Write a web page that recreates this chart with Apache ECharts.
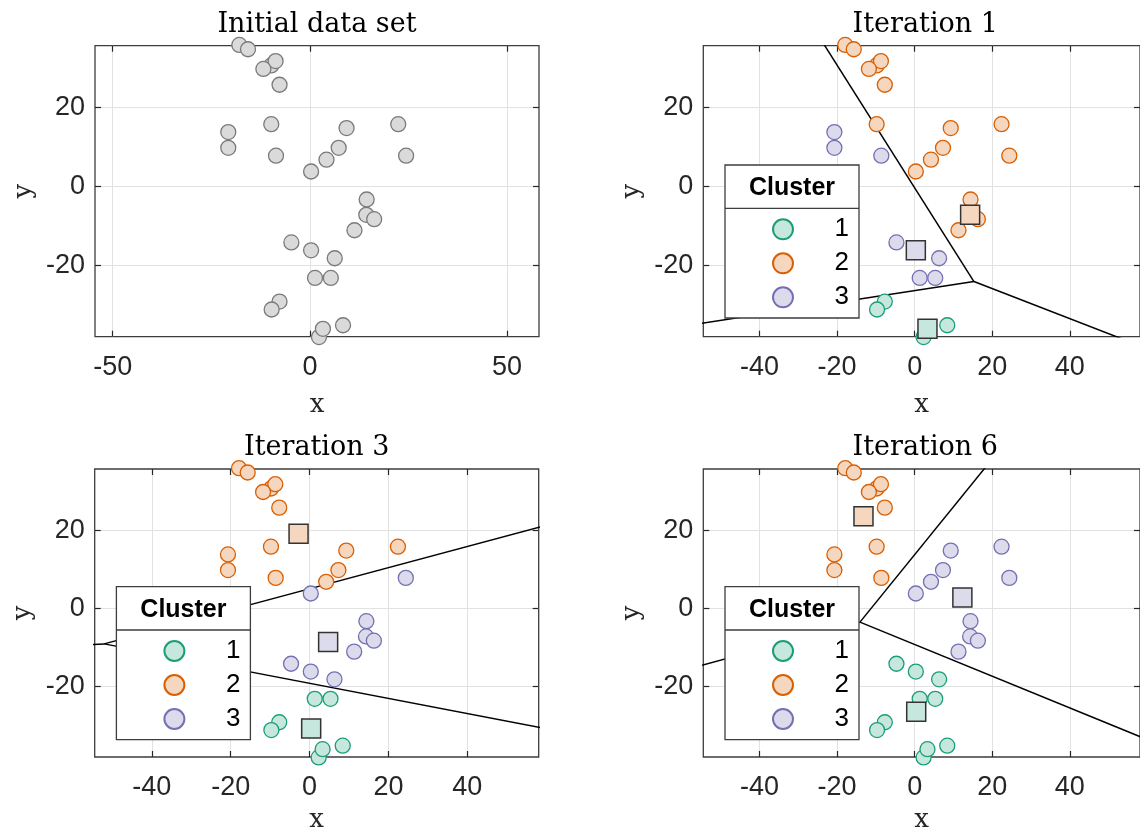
<!DOCTYPE html>
<html>
<head>
<meta charset="utf-8">
<script src="https://cdn.jsdelivr.net/npm/echarts@6/dist/echarts.min.js"></script>
<style>html,body{margin:0;padding:0;background:#fff}#chart{width:1140px;height:834px}</style>
</head>
<body>
<div id="chart"></div>
<script>
// ---- data ----
const pointX = [-17.9,-15.7,-9.8,-8.7,-11.8,-7.7,-9.8,-20.7,-20.7,-8.6,0.3,4.2,7.3,9.3,22.4,24.4,14.4,14.3,16.3,11.3,-4.7,0.3,6.3,1.3,5.3,-7.7,-9.7,2.3,3.3,8.4];
const pointY = [35.9,34.8,30.7,31.8,29.8,25.8,15.8,13.8,9.8,7.8,3.8,6.8,9.8,14.8,15.8,7.8,-3.3,-7.2,-8.3,-11.1,-14.2,-16.2,-18.2,-23.2,-23.2,-29.2,-31.2,-38.2,-36.1,-35.2];
const labelsIter1 = [2,2,2,2,2,2,2,3,3,3,2,2,2,2,2,2,2,2,2,2,3,3,3,3,3,1,1,1,1,1];
const labelsIter3 = [2,2,2,2,2,2,2,2,2,2,3,2,2,2,2,3,3,3,3,3,3,3,3,1,1,1,1,1,1,1];
const labelsIter6 = [2,2,2,2,2,2,2,2,2,2,3,3,3,3,3,3,3,3,3,3,1,1,1,1,1,1,1,1,1,1];
const centroidsIter1 = [[3.3,-36.1],[14.3,-7.2],[0.3,-16.2]];
const centroidsIter3 = [[0.4,-30.8],[-2.8,19.1],[4.7,-8.6]];
const centroidsIter6 = [[0.4,-26.5],[-13.2,23.6],[12.3,2.8]];
const clusterNames = ['1','2','3'];
const panelTitles = ['Initial data set','Iteration 1','Iteration 3','Iteration 6'];
const xTicksFirst = [-50,0,50];
const xTicksOther = [-40,-20,0,20,40];
const yTicks = [-20,0,20];

// ---- style ----
const edgeColors = ['#1b9e77','#d95f02','#7570b3'];
const fillColors = ['#c6e7dd','#f5d7c0','#dcdbec'];
const xMin=-54.5, xMax=58.1, yMin=-38.1, yMax=35.7;
const W=444, H=291;
const panels = [{left:95,top:45.7},{left:703.3,top:45.7},{left:94.7,top:469},{left:703.3,top:469}];
const legendTop = [0,119.3,117.7,117.7];
const xNameGap = [56,56,50,50];
const axisColor = '#262626';
const serif = 'DejaVu Serif';

function voronoiEdges(c){
  const [a,b,d]=c;
  const D = 2*(a[0]*(b[1]-d[1]) + b[0]*(d[1]-a[1]) + d[0]*(a[1]-b[1]));
  const a2=a[0]*a[0]+a[1]*a[1], b2=b[0]*b[0]+b[1]*b[1], d2=d[0]*d[0]+d[1]*d[1];
  const ux = (a2*(b[1]-d[1]) + b2*(d[1]-a[1]) + d2*(a[1]-b[1]))/D;
  const uy = (a2*(d[0]-b[0]) + b2*(a[0]-d[0]) + d2*(b[0]-a[0]))/D;
  const edges=[];
  const pairs=[[0,1,2],[1,2,0],[0,2,1]];
  for(const [i,j,k] of pairs){
    let dx = -(c[j][1]-c[i][1]), dy = c[j][0]-c[i][0];
    if (dx*(c[k][0]-c[i][0]) + dy*(c[k][1]-c[i][1]) > 0){dx=-dx;dy=-dy;}
    const n = Math.hypot(dx,dy);
    edges.push([[ux,uy],[ux+dx/n*400, uy+dy/n*400]]);
  }
  return edges;
}

const grids=[], xAxes=[], yAxes=[], series=[], legends=[], graphics=[];
const iterLabels=[null,labelsIter1,labelsIter3,labelsIter6];
const iterCentroids=[null,centroidsIter1,centroidsIter3,centroidsIter6];

function tickCfg(vals){
  return {show:true, inside:true, length:6, customValues:vals, lineStyle:{color:axisColor,width:1.2}};
}

panels.forEach((p,i)=>{
  grids.push({left:p.left, top:p.top, width:W, height:H, show:true, borderColor:'#3d3d3d', borderWidth:1.3, backgroundColor:'#fff', z:0});
  const xt = i===0 ? xTicksFirst : xTicksOther;
  xAxes.push({type:'value', gridIndex:i, min:xMin, max:xMax, position:'bottom',
    axisLine:{show:false, onZero:false},
    axisTick:tickCfg(xt),
    axisLabel:{show:true, customValues:xt, fontSize:27, fontFamily:'Liberation Sans', color:axisColor, margin:17},
    splitLine:{show:true, lineStyle:{color:'#e2e2e2', width:1}},
    name:'x', nameLocation:'middle', nameGap:xNameGap[i],
    nameTextStyle:{fontFamily:serif, fontSize:26, color:axisColor}});
  xAxes.push({type:'value', gridIndex:i, min:xMin, max:xMax, position:'top',
    axisLine:{show:false, onZero:false},
    axisTick:tickCfg(xt),
    axisLabel:{show:false}, splitLine:{show:false}});
  yAxes.push({type:'value', gridIndex:i, min:yMin, max:yMax, position:'left',
    axisLine:{show:false, onZero:false},
    axisTick:tickCfg(yTicks),
    axisLabel:{show:true, customValues:yTicks, fontSize:27, fontFamily:'Liberation Sans', color:axisColor, margin:10},
    splitLine:{show:true, lineStyle:{color:'#e2e2e2', width:1}},
    name:'y', nameLocation:'middle', nameGap:58, nameRotate:90,
    nameTextStyle:{fontFamily:serif, fontSize:26, color:axisColor}});
  yAxes.push({type:'value', gridIndex:i, min:yMin, max:yMax, position:'right',
    axisLine:{show:false, onZero:false},
    axisTick:tickCfg(yTicks),
    axisLabel:{show:false}, splitLine:{show:false}});

  graphics.push({type:'text', z:100, style:{text:panelTitles[i], x:p.left+W/2, y:p.top-21,
    align:'center', verticalAlign:'middle', fontFamily:serif, fontSize:27, fill:'#000'}});

  const xi = 2*i, yi = 2*i;
  if(i===0){
    series.push({type:'scatter', name:'data', xAxisIndex:xi, yAxisIndex:yi, symbol:'circle', symbolSize:15, clip:false,
      itemStyle:{color:'#dadada', borderColor:'#7a7a7a', borderWidth:1.3, opacity:1},
      data:pointX.map((x,k)=>[x,pointY[k]]), z:3});
    return;
  }
  // boundaries between centroid regions
  voronoiEdges(iterCentroids[i]).forEach((e,k)=>{
    series.push({type:'line', name:'boundary'+i+'_'+k, xAxisIndex:xi, yAxisIndex:yi, data:e, symbol:'none',
      clip:true, lineStyle:{color:'#000', width:1.5}, z:2, silent:true});
  });
  const lab = iterLabels[i];
  clusterNames.forEach((nm,c)=>{
    const d=[];
    lab.forEach((l,k)=>{ if(l===c+1) d.push([pointX[k],pointY[k]]); });
    series.push({type:'scatter', name:nm, xAxisIndex:xi, yAxisIndex:yi, symbol:'circle', symbolSize:15, clip:false,
      itemStyle:{color:fillColors[c], borderColor:edgeColors[c], borderWidth:1.3, opacity:1}, data:d, z:3});
  });
  iterCentroids[i].forEach((cc,c)=>{
    series.push({type:'scatter', name:'centroid'+i+'_'+c, xAxisIndex:xi, yAxisIndex:yi, symbol:'rect', symbolSize:19, clip:false,
      itemStyle:{color:fillColors[c], borderColor:'#333', borderWidth:1.5, opacity:1}, data:[cc], z:4});
  });
  // legend box
  const bx = p.left+21.7, by = p.top+legendTop[i];
  graphics.push({type:'rect', z:100, shape:{x:bx, y:by, width:134, height:153},
    style:{fill:'#fff', stroke:'#3d3d3d', lineWidth:1.3}});
  graphics.push({type:'line', z:101, shape:{x1:bx, y1:by+43.3, x2:bx+134, y2:by+43.3},
    style:{stroke:'#3d3d3d', lineWidth:1.3}});
  graphics.push({type:'text', z:101, style:{text:'Cluster', x:bx+67, y:by+23.5, align:'center', verticalAlign:'middle',
    fontFamily:'Liberation Sans', fontWeight:'bold', fontSize:25, fill:'#000'}});
  legends.push({data:clusterNames, orient:'vertical', left:bx+47, top:by+51.3, padding:0,
    itemWidth:20, itemHeight:20, itemGap:8, icon:'circle', selectedMode:false, z:120,
    formatter: n=>'{n|'+n+'}',
    textStyle:{fontFamily:'Liberation Sans', fontSize:26, color:'#000', rich:{n:{width:51, align:'right', fontSize:26, fontFamily:'Liberation Sans'}}}});
});

const chart = echarts.init(document.getElementById('chart'), null, {renderer:'canvas'});
chart.setOption({
  animation:false,
  backgroundColor:'#fff',
  grid:grids, xAxis:xAxes, yAxis:yAxes, series:series, legend:legends,
  graphic:{elements:graphics}
});
</script>
</body>
</html>
